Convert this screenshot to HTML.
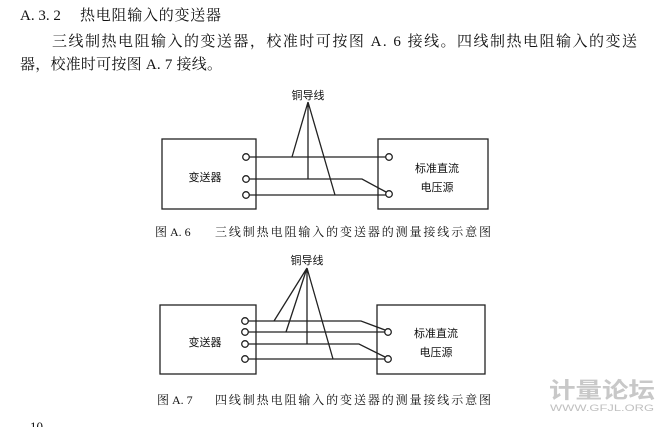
<!DOCTYPE html>
<html><head><meta charset="utf-8"><style>
body{margin:0;background:#fff;width:671px;height:427px;overflow:hidden}
svg text{font-family:"Liberation Serif","Noto Serif CJK SC",serif;fill:#111}
.s{font-family:"Liberation Sans","Noto Sans CJK SC",sans-serif}
</style></head><body>
<svg width="671" height="427" viewBox="0 0 671 427" xmlns="http://www.w3.org/2000/svg">
<text x="20" y="20" font-size="15">A. 3. 2</text>
<text x="80" y="20" font-size="15" textLength="141">热电阻输入的变送器</text>
<text x="52" y="46" font-size="15" textLength="585">三线制热电阻输入的变送器，校准时可按图 A. 6 接线。四线制热电阻输入的变送</text>
<text x="20" y="69" font-size="15" textLength="202">器，校准时可按图 A. 7 接线。</text>

<g stroke="#222" stroke-width="1.3" fill="none">
<rect x="162" y="139" width="94" height="70"/>
<rect x="378" y="139" width="110" height="70"/>
<circle cx="246" cy="157" r="3.3"/><circle cx="246" cy="179" r="3.3"/><circle cx="246" cy="195" r="3.3"/>
<circle cx="389" cy="157" r="3.3"/><circle cx="389" cy="194" r="3.3"/>
<path d="M249.5 157H385.5M249.5 179H362L386 192M249.5 195H385.5"/>
<path d="M308 102L292 157M308 102V179M308 102L335 195"/>
</g>
<text class="s" x="308" y="99" font-size="11" text-anchor="middle">铜导线</text>
<text class="s" x="205" y="181" font-size="11" text-anchor="middle">变送器</text>
<text class="s" x="437" y="172" font-size="11" text-anchor="middle">标准直流</text>
<text class="s" x="437" y="191" font-size="11" text-anchor="middle">电压源</text>
<text x="155" y="236" font-size="12">图 A. 6</text>
<text x="215" y="236" font-size="12" textLength="276">三线制热电阻输入的变送器的测量接线示意图</text>

<g stroke="#222" stroke-width="1.3" fill="none">
<rect x="160" y="305" width="96" height="69"/>
<rect x="377" y="305" width="108" height="69"/>
<circle cx="245" cy="321" r="3.3"/><circle cx="245" cy="332" r="3.3"/><circle cx="245" cy="344" r="3.3"/><circle cx="245" cy="359" r="3.3"/>
<circle cx="388" cy="332" r="3.3"/><circle cx="388" cy="359" r="3.3"/>
<path d="M248.5 321H361L385 330M248.5 332H384.5M248.5 344H359L385 357M248.5 359H384.5"/>
<path d="M307 268L274 321M307 268L286 332M307 268V344M307 268L333 359"/>
</g>
<text class="s" x="307" y="264" font-size="11" text-anchor="middle">铜导线</text>
<text class="s" x="205" y="346" font-size="11" text-anchor="middle">变送器</text>
<text class="s" x="436" y="337" font-size="11" text-anchor="middle">标准直流</text>
<text class="s" x="436" y="356" font-size="11" text-anchor="middle">电压源</text>
<text x="157" y="404" font-size="12">图 A. 7</text>
<text x="215" y="404" font-size="12" textLength="276">四线制热电阻输入的变送器的测量接线示意图</text>

<text class="s" x="549" y="398" font-size="22" font-weight="bold" style="fill:#c8c8c8" textLength="106" lengthAdjust="spacingAndGlyphs">计量论坛</text>
<text class="s" x="550" y="411" font-size="9" style="fill:#c0c0c0" textLength="104" lengthAdjust="spacingAndGlyphs">WWW.GFJL.ORG</text>
<text x="30" y="431" font-size="13">10</text>
</svg>
</body></html>
